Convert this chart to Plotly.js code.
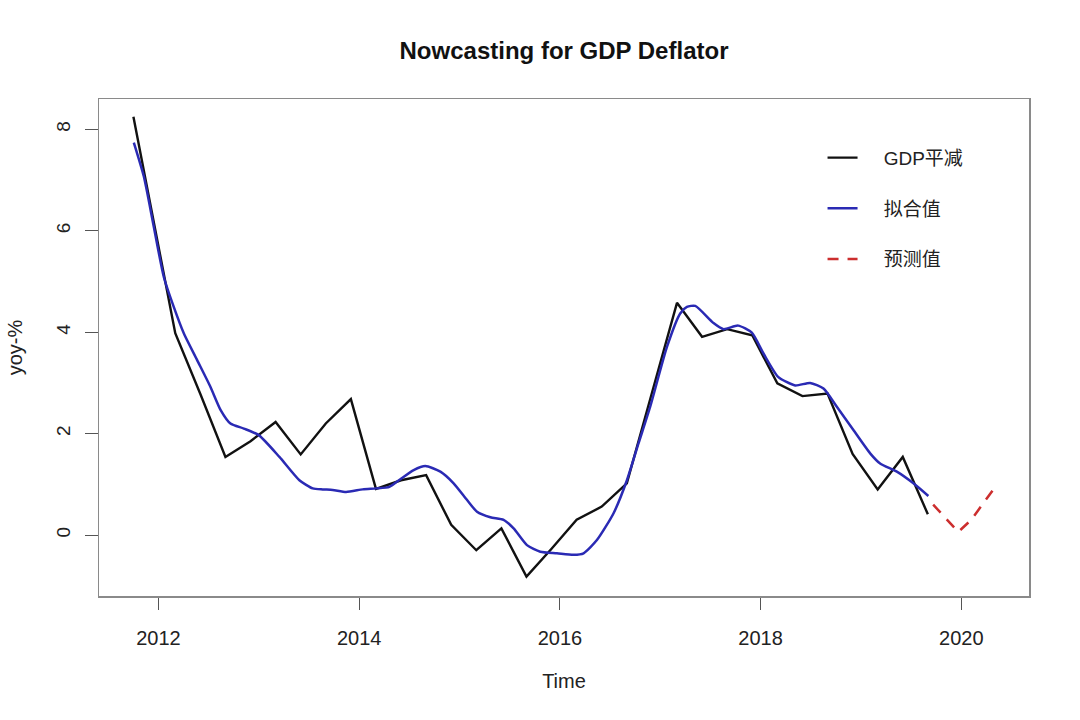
<!DOCTYPE html>
<html>
<head>
<meta charset="utf-8">
<script src="https://cdn.plot.ly/plotly-3.0.1.min.js"></script>
<style>html,body{margin:0;padding:0;background:#fff;}#chart{width:1080px;height:720px;}</style>
</head>
<body>
<div id="chart"></div>
<script>
// GDP deflator (quarterly, yoy %)
const gdpTime = [2011.75, 2011.917, 2012.167, 2012.417, 2012.667, 2012.917, 2013.167, 2013.417, 2013.667, 2013.917,
  2014.167, 2014.417, 2014.667, 2014.917, 2015.167, 2015.417, 2015.667, 2015.917, 2016.167, 2016.417,
  2016.667, 2016.917, 2017.167, 2017.417, 2017.667, 2017.917, 2018.167, 2018.417, 2018.667, 2018.917,
  2019.167, 2019.417, 2019.667];
const gdpValue = [8.25, 6.55, 3.98, 2.78, 1.54, 1.85, 2.23, 1.59, 2.2, 2.68,
  0.91, 1.08, 1.18, 0.2, -0.3, 0.13, -0.82, -0.27, 0.3, 0.56,
  1.02, 2.8, 4.58, 3.91, 4.06, 3.94, 2.99, 2.74, 2.79, 1.6,
  0.9, 1.54, 0.41];

// Fitted values
const fitTime = [2011.754, 2011.854, 2011.953, 2012.053, 2012.152, 2012.252, 2012.385, 2012.518, 2012.618, 2012.717,
  2012.85, 2012.999, 2013.205, 2013.404, 2013.537, 2013.636, 2013.736, 2013.87, 2014.035, 2014.168,
  2014.301, 2014.41, 2014.543, 2014.659, 2014.809, 2014.941, 2015.075, 2015.174, 2015.307, 2015.439,
  2015.539, 2015.672, 2015.805, 2015.971, 2016.136, 2016.236, 2016.369, 2016.535, 2016.668, 2016.784,
  2016.9, 2017.067, 2017.199, 2017.266, 2017.349, 2017.531, 2017.631, 2017.777, 2017.913, 2018.029,
  2018.175, 2018.345, 2018.494, 2018.627, 2018.76, 2018.925, 2019.092, 2019.191, 2019.358, 2019.523,
  2019.672];
const fitValue = [7.74, 7.07, 6.08, 5.09, 4.5, 3.98, 3.45, 2.92, 2.47, 2.2,
  2.1, 1.97, 1.54, 1.08, 0.92, 0.9, 0.89, 0.85, 0.9, 0.92,
  0.95, 1.1, 1.28, 1.36, 1.25, 1.02, 0.69, 0.46, 0.35, 0.3,
  0.13, -0.2, -0.33, -0.36, -0.39, -0.36, -0.1, 0.43, 1.08, 1.81,
  2.53, 3.71, 4.37, 4.5, 4.52, 4.18, 4.06, 4.13, 3.99, 3.58,
  3.12, 2.95, 3.0, 2.89, 2.53, 2.07, 1.61, 1.41, 1.25, 1.02,
  0.77];

// Forecast values
const fcTime = [2019.72, 2019.97, 2020.1, 2020.32];
const fcValue = [0.6, 0.06, 0.3, 0.9];

const xTicks = [2012, 2014, 2016, 2018, 2020];
const yTicks = [0, 2, 4, 6, 8];
const seriesNames = ['GDP平减', '拟合值', '预测值'];

const FONT = 'Liberation Sans, Arial, Noto Sans CJK SC, sans-serif';
const PAD = '\u00A0\u00A0\u00A0\u00A0';

const traces = [
  {x: gdpTime, y: gdpValue, type: 'scatter', mode: 'lines', name: PAD + seriesNames[0], legendgroup: 'a',
   line: {color: '#111111', width: 2.4}},
  {x: fitTime, y: fitValue, type: 'scatter', mode: 'lines', name: PAD + seriesNames[1], legendgroup: 'b',
   line: {color: '#2a2ab4', width: 2.5, shape: 'spline', smoothing: 0.6}},
  {x: fcTime, y: fcValue, type: 'scatter', mode: 'lines', name: PAD + seriesNames[2], legendgroup: 'c',
   line: {color: '#cc2e2e', width: 2.5, dash: '11px,9px'}}
];

const layout = {
  width: 1080, height: 720,
  paper_bgcolor: '#ffffff', plot_bgcolor: '#ffffff',
  margin: {l: 99, r: 51, t: 99, b: 124},
  font: {family: FONT, color: '#222'},
  title: {text: '<b>Nowcasting for GDP Deflator</b>', font: {family: FONT, size: 24, color: '#111'},
          x: 0.5, xref: 'paper', xanchor: 'center', y: 0.93, yref: 'container', yanchor: 'middle'},
  xaxis: {range: [2011.407, 2020.675], tickvals: xTicks, ticktext: xTicks.map(String),
          ticks: 'outside', ticklen: 12, tickwidth: 1, tickcolor: '#555',
          showline: true, mirror: true, linecolor: '#8a8a8a', linewidth: 1.5,
          showgrid: false, zeroline: false, ticklabelstandoff: 11,
          tickfont: {family: FONT, size: 20, color: '#222'},
          title: {text: 'Time', font: {family: FONT, size: 20, color: '#222'}, standoff: 26}},
  yaxis: {range: [-1.203, 8.60], tickvals: yTicks, ticktext: yTicks.map(String),
          ticks: 'outside', ticklen: 13, tickwidth: 1, tickcolor: '#555',
          showline: true, mirror: true, linecolor: '#8a8a8a', linewidth: 1.5,
          showgrid: false, zeroline: false, tickangle: -90, ticklabelstandoff: 7,
          tickfont: {family: FONT, size: 19, color: '#222'},
          title: {text: 'yoy-%', font: {family: FONT, size: 20, color: '#222'}, standoff: 25}},
  showlegend: true,
  legend: {x: 0.778, y: 0.92, xanchor: 'left', yanchor: 'top', bgcolor: 'rgba(0,0,0,0)',
           font: {family: FONT, size: 19, color: '#222'}, tracegroupgap: 23, traceorder: 'grouped'}
};

Plotly.newPlot('chart', traces, layout, {displayModeBar: false, staticPlot: true});
</script>
</body>
</html>
